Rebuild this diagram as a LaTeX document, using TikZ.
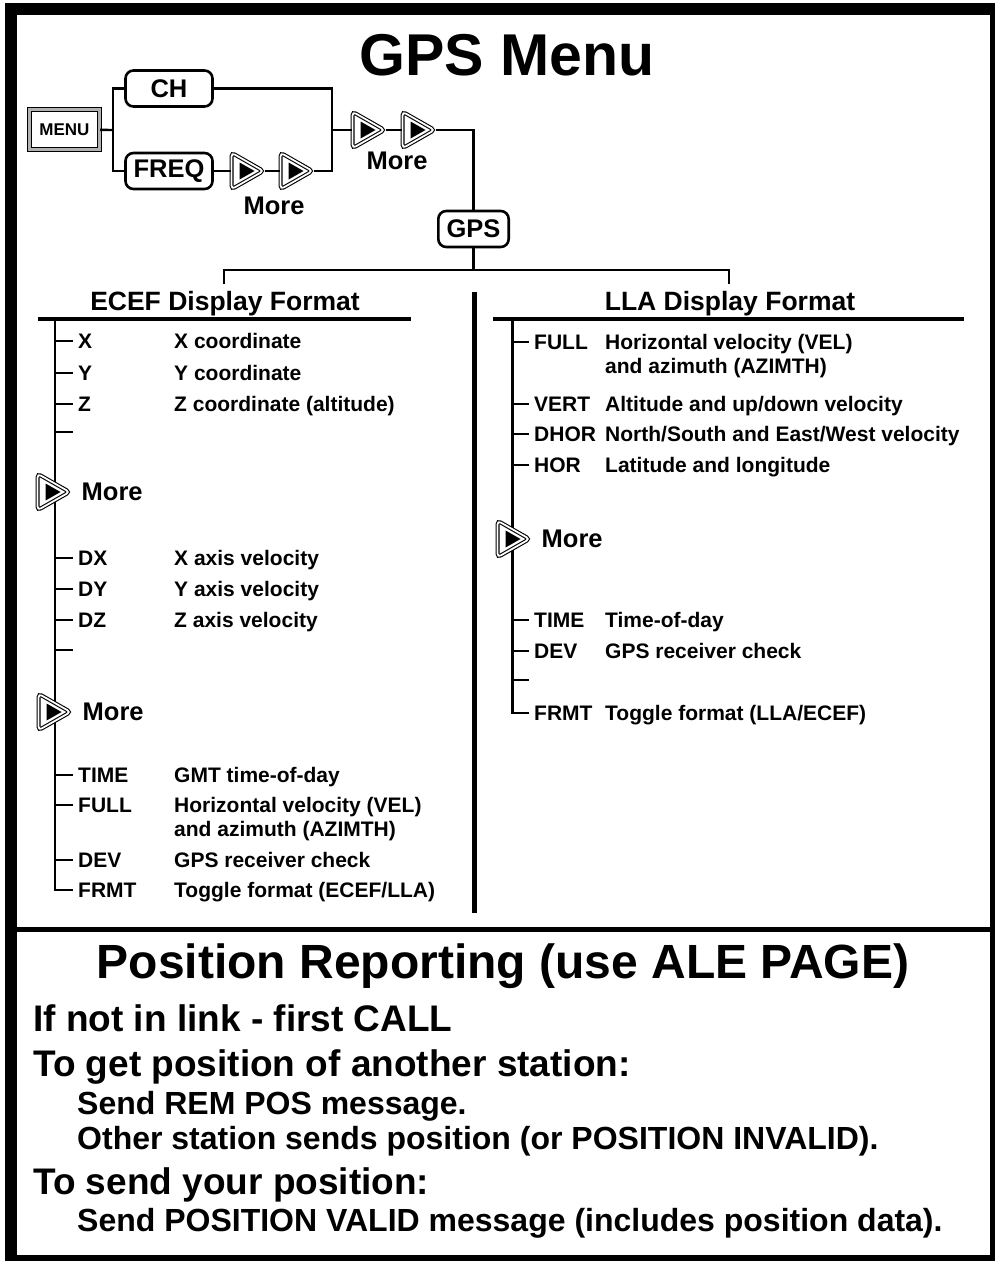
\documentclass[tikz,border=0pt]{standalone}
\usepackage{fontspec}
\setmainfont{Liberation Sans}
\usetikzlibrary{positioning,shapes.geometric,backgrounds}

\newcommand\keyfont{\fontsize{25.5}{25.5}\selectfont\bfseries}
\newcommand\itemfont{\fontsize{21}{23.5}\selectfont\bfseries}

\tikzset{%
  % Specifications for style of nodes:
       keybox/.style = {rectangle, rounded corners=8pt, draw=black, line width=2.6pt,
                        minimum width=87pt, minimum height=36pt, inner sep=0pt, font=\keyfont},
      menukey/.style = {rectangle, draw=black, line width=0.9pt, double=black!30,
                        double distance=2.8pt, minimum width=70.4pt, minimum height=40.4pt,
                        inner sep=0pt, font=\fontsize{17}{17}\selectfont\bfseries},
      morekey/.style = {isosceles triangle, isosceles triangle stretches, anchor=apex,
                        minimum width=36.5pt, minimum height=32pt, inner sep=0pt,
                        rounded corners=3.5pt, draw=black, line width=1.1pt,
                        double=white, double distance=1.8pt, fill=white,
                        path picture={\fill[black, sharp corners]
                          ([xshift=-8pt,yshift=8.5pt]path picture bounding box.center)
                          -- ([xshift=7pt]path picture bounding box.center)
                          -- ([xshift=-8pt,yshift=-8.5pt]path picture bounding box.center) -- cycle;}},
     moretext/.style = {inner sep=0pt, font=\keyfont},
      heading/.style = {anchor=base, inner sep=0pt, font=\fontsize{26.5}{26.5}\selectfont\bfseries},
      itemkey/.style = {anchor=west, inner xsep=5pt, inner ysep=0pt, text height=15pt,
                        text depth=0pt, font=\itemfont},
     itemtext/.style = {anchor=base west, inner sep=0pt, align=left, font=\itemfont},
  % Specifications for style of lines:
         link/.style = {line width=2.4pt},
     treeline/.style = {line width=2.6pt},
         rule/.style = {line width=3.6pt},
  % Specifications for the text of the lower part:
      bigline/.style = {anchor=base west, inner sep=0pt, font=\fontsize{37}{37}\selectfont\bfseries},
      subline/.style = {anchor=base west, inner sep=0pt, font=\fontsize{32}{32}\selectfont\bfseries},
}

\begin{document}
\begin{tikzpicture}[x=1pt, y=-1pt]
  \useasboundingbox (0,0) rectangle (994,1261);
  % frame and divider
  \draw[line width=12pt] (11,9) rectangle (996,1261);
  \draw[line width=5pt] (11,929.5) -- (996,929.5);

  \node[anchor=base, inner sep=0pt, font=\fontsize{59}{59}\selectfont\bfseries] (title) at (507,75) {GPS Menu};

  % Specification of nodes (position, etc.)
  \node (menu)      [menukey] at (64.5,129.5) {MENU};
  \node (ch)        [keybox]  at (169,88.5)   {CH};
  \node (freq)      [keybox]  at (169,171)    {FREQ};
  \node (freqMoreA) [morekey] at (265,171)    {};
  \node (freqMoreB) [morekey] at (314,171)    {};
  \node (freqMore)  [moretext] at (274,206)   {More};
  \node (chMoreA)   [morekey] at (386,130)    {};
  \node (chMoreB)   [morekey] at (436,130)    {};
  \node (chMore)    [moretext] at (397,161)   {More};
  \node (gps)       [keybox, minimum width=70.4pt] at (473.5,229) {GPS};

  \coordinate (menuSplit) at (113,130);
  \coordinate (chJoin)    at (332,130);
  \coordinate (gpsBar)    at (473.5,270);
  \coordinate (ecefDrop)  at (224,284);
  \coordinate (llaDrop)   at (729,284);

  % Specification of lines between nodes specified above
  \draw[link] (menu) -- (menuSplit);
  \draw[link] (menuSplit) |- (ch);
  \draw[link] (menuSplit) |- (freq);
  \draw[link] (freq) -- (freqMoreA);
  \draw[link] (freqMoreA) -- (freqMoreB);
  \draw[link] (freqMoreB) -| (chJoin);
  \draw[link] (ch) -| (chJoin);
  \draw[link] (chJoin) -- (chMoreA);
  \draw[link] (chMoreA) -- (chMoreB);
  \draw[link] (chMoreB) -| (gps);
  \draw[link] (gps) -- (gpsBar);
  \draw[link] (ecefDrop) |- (gpsBar) -| (llaDrop);

  % ECEF branch
  \node (ecefHead) [heading] at (225,310.5) {ECEF Display Format};
  \coordinate (ecefRuleL) at (38,319);
  \coordinate (ecefRuleR) at (411,319);
  \coordinate (ecefTop)   at (55,319);
  \coordinate (ecefCol)   at (174,0);

  \node (ecefX)    [itemkey] at (73,341) {X};
  \node (ecefY)    [itemkey] at (73,373) {Y};
  \node (ecefZ)    [itemkey] at (73,404) {Z};
  \coordinate (ecefGapA) at (73,432);
  \node (ecefMoreA) [morekey] at (71,492) {};
  \node (ecefMoreAtxt) [moretext, right=10.5pt of ecefMoreA] {More};
  \node (ecefDX)   [itemkey] at (73,558) {DX};
  \node (ecefDY)   [itemkey] at (73,589) {DY};
  \node (ecefDZ)   [itemkey] at (73,620) {DZ};
  \coordinate (ecefGapB) at (73,650);
  \node (ecefMoreB) [morekey] at (72,712) {};
  \node (ecefMoreBtxt) [moretext, right=10.5pt of ecefMoreB] {More};
  \node (ecefTime) [itemkey] at (73,775) {TIME};
  \node (ecefFull) [itemkey] at (73,805) {FULL};
  \node (ecefDev)  [itemkey] at (73,860) {DEV};
  \node (ecefFrmt) [itemkey] at (73,890) {FRMT};

  \node [itemtext] at (ecefX.base -| ecefCol)    {X coordinate};
  \node [itemtext] at (ecefY.base -| ecefCol)    {Y coordinate};
  \node [itemtext] at (ecefZ.base -| ecefCol)    {Z coordinate (altitude)};
  \node [itemtext] at (ecefDX.base -| ecefCol)   {X axis velocity};
  \node [itemtext] at (ecefDY.base -| ecefCol)   {Y axis velocity};
  \node [itemtext] at (ecefDZ.base -| ecefCol)   {Z axis velocity};
  \node [itemtext] at (ecefTime.base -| ecefCol) {GMT time-of-day};
  \node [itemtext] at ([yshift=-23.5pt]ecefFull.base -| ecefCol) {Horizontal velocity (VEL)\\and azimuth (AZIMTH)};
  \node [itemtext] at (ecefDev.base -| ecefCol)  {GPS receiver check};
  \node [itemtext] at (ecefFrmt.base -| ecefCol) {Toggle format (ECEF/LLA)};

  % LLA branch
  \node (llaHead) [heading] at (730,310.5) {LLA Display Format};
  \coordinate (llaRuleL) at (493,319);
  \coordinate (llaRuleR) at (964,319);
  \coordinate (llaTop)   at (512.5,319);
  \coordinate (llaCol)   at (605,0);

  \node (llaFull) [itemkey] at (529,342) {FULL};
  \node (llaVert) [itemkey] at (529,404) {VERT};
  \node (llaDhor) [itemkey] at (529,434) {DHOR};
  \node (llaHor)  [itemkey] at (529,465) {HOR};
  \node (llaMore) [morekey] at (531,539) {};
  \node (llaMoretxt) [moretext, right=10.5pt of llaMore] {More};
  \node (llaTime) [itemkey] at (529,620) {TIME};
  \node (llaDev)  [itemkey] at (529,651) {DEV};
  \coordinate (llaGap) at (529,680);
  \node (llaFrmt) [itemkey] at (529,713) {FRMT};

  \node [itemtext] at ([yshift=-23.5pt]llaFull.base -| llaCol) {Horizontal velocity (VEL)\\and azimuth (AZIMTH)};
  \node [itemtext] at (llaVert.base -| llaCol) {Altitude and up/down velocity};
  \node [itemtext] at (llaDhor.base -| llaCol) {North/South and East/West velocity};
  \node [itemtext] at (llaHor.base -| llaCol)  {Latitude and longitude};
  \node [itemtext] at (llaTime.base -| llaCol) {Time-of-day};
  \node [itemtext] at (llaDev.base -| llaCol)  {GPS receiver check};
  \node [itemtext] at (llaFrmt.base -| llaCol) {Toggle format (LLA/ECEF)};

  % rules, tree lines and ticks
  \coordinate (colTop) at (474.5,292);
  \coordinate (colBot) at (474.5,913);
  \draw[line width=4.5pt] (colTop) -- (colBot);
  \draw[rule] (ecefRuleL) -- (ecefRuleR);
  \draw[rule] (llaRuleL) -- (llaRuleR);
  \begin{scope}[on background layer]
    \draw[treeline] (ecefTop) |- (ecefFrmt.west);
    \draw[treeline] (llaTop) |- (llaFrmt.west);
  \end{scope}
  \foreach \item in {ecefX, ecefY, ecefZ, ecefDX, ecefDY, ecefDZ, ecefTime, ecefFull, ecefDev}
    \draw[treeline] (\item.west) -- (\item.west -| ecefTop);
  \draw[treeline] (ecefGapA) -- (ecefGapA -| ecefTop);
  \draw[treeline] (ecefGapB) -- (ecefGapB -| ecefTop);
  \foreach \item in {llaFull, llaVert, llaDhor, llaHor, llaTime, llaDev}
    \draw[treeline] (\item.west) -- (\item.west -| llaTop);
  \draw[treeline] (llaGap) -- (llaGap -| llaTop);

  % Position reporting
  \node (posTitle) [anchor=base, inner sep=0pt, font=\fontsize{48}{48}\selectfont\bfseries]
        at (503,978) {Position Reporting (use ALE PAGE)};
  \node (posLink)  [bigline] at (33,1031) {If not in link - first CALL};
  \node (posGet)   [bigline] at (33,1076) {To get position of another station:};
  \node (posRem)   [subline] at (77,1114) {Send REM POS message.};
  \node (posOther) [subline] at (77,1149) {Other station sends position (or POSITION INVALID).};
  \node (posSend)  [bigline] at (33,1194) {To send your position:};
  \node (posValid) [subline] at (77,1231) {Send POSITION VALID message (includes position data).};
\end{tikzpicture}
\end{document}
